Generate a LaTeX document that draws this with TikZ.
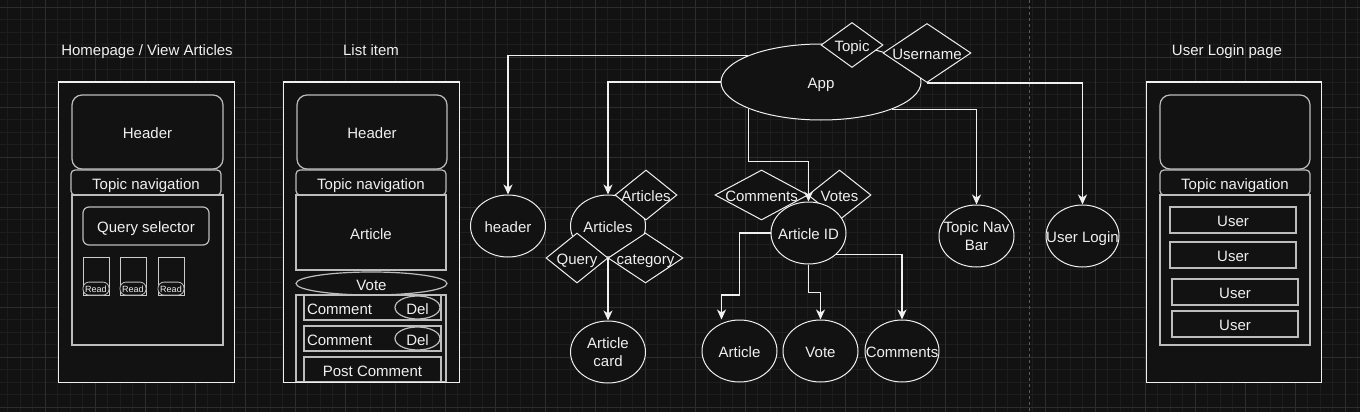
\documentclass[tikz,border=0pt]{standalone}
\usepackage{fontspec}
\setmainfont{Liberation Sans}
\usepackage{xcolor}
\usepackage{tikz}
\usetikzlibrary{shapes.geometric}
\usetikzlibrary{arrows.meta}
\definecolor{bg_col}{HTML}{121212}
\definecolor{grid_minor}{HTML}{1D1D1D}
\definecolor{grid_major}{HTML}{2D2D2D}
\definecolor{line_col}{HTML}{F0F0F0}
\definecolor{box_col}{HTML}{BDBDBD}
\definecolor{dash_col}{HTML}{5A5A5A}
\newcommand{\zw}[1]{\makebox[0pt]{#1}}
\tikzset{ page_frame/.style = {rectangle, draw=line_col, fill=bg_col, line width=1pt, inner sep=0pt} }
\tikzset{ ui_box/.style = {rectangle, draw=box_col, fill=bg_col, line width=1.2pt, inner sep=0pt} }
\tikzset{ read_tab/.style = {rectangle, rounded corners=6pt, draw=box_col, fill=bg_col, line width=0.8pt, inner sep=0pt, minimum width=26pt, minimum height=13pt, text height=8.5pt, text depth=0pt, font=\fontsize{9}{10}\selectfont} }
\tikzset{ comp/.style = {ellipse, draw=line_col, fill=bg_col, line width=1pt, inner sep=0pt, minimum width=75pt, minimum height=62pt, align=center} }
\tikzset{ prop/.style = {diamond, draw=line_col, fill=bg_col, line width=1pt, inner sep=0pt, minimum height=50pt} }
\tikzset{ link/.style = {->, draw=line_col, line width=1.3pt} }

\begin{document}
\begin{tikzpicture}[x=1pt, y=-1pt, >={Stealth[length=10pt,width=9pt,inset=3pt]},
                    every node/.style={text=line_col, font=\fontsize{15}{17.5}\selectfont, text height=13pt, text depth=0pt}]
                        \useasboundingbox (0,0) rectangle (1360,412);
                        \fill[bg_col] (0,0) rectangle (1360,412);
                        % grid
                        \foreach \gx in {7.5,20,...,1360} \draw[grid_minor, line width=0.8pt] (\gx,0) -- (\gx,412);
                        \foreach \gy in {7,19.5,...,412} \draw[grid_minor, line width=0.8pt] (0,\gy) -- (1360,\gy);
                        \foreach \gx in {45,95,...,1345} \draw[grid_major, line width=0.8pt] (\gx,0) -- (\gx,412);
                        \foreach \gy in {7,57,...,407} \draw[grid_major, line width=0.8pt] (0,\gy) -- (1360,\gy);
                        \draw[dash_col, line width=0.8pt, dash pattern=on 3pt off 3pt] (1029,0) -- (1029,412);

                        % homepage
                        \node (hp_title) at (147,49) {Homepage / View Articles};
                        \node[page_frame, minimum width=176pt, minimum height=300pt] (hp_frame) at (146,232) {};
                        \node[ui_box, rounded corners=10pt, minimum width=151pt, minimum height=74pt] (hp_header) at (147.5,132) {Header};
                        \node[ui_box, rounded corners=4pt, minimum width=150pt, minimum height=25pt] (hp_topic) at (146,182.5) {Topic navigation};
                        \node[ui_box, minimum width=151pt, minimum height=150pt] (hp_body) at (147.5,270) {};
                        \node[ui_box, rounded corners=6pt, minimum width=126pt, minimum height=38pt] (hp_query) at (146,226) {Query selector};
                        \foreach \i/\rx in {1/96,2/133,3/171} {
                                \node[ui_box, draw=line_col!85!black, line width=1pt, minimum width=26pt, minimum height=38pt] (rd\i) at (\rx,276) {};
                                \node[read_tab, anchor=south] (tab\i) at (rd\i.south) {Read};
                        }

                        % list item
                        \node (li_title) at (371,49) {List item};
                        \node[page_frame, minimum width=176pt, minimum height=300pt] (li_frame) at (371,232) {};
                        \node[ui_box, rounded corners=10pt, minimum width=150pt, minimum height=74pt] (li_header) at (372,132) {Header};
                        \node[ui_box, rounded corners=4pt, minimum width=150pt, minimum height=25pt] (li_topic) at (371,182.5) {Topic navigation};
                        \node[ui_box, minimum width=150pt, minimum height=75pt] (li_article) at (371,232.5) {Article};
                        \node[ui_box, ellipse, minimum width=151pt, minimum height=23pt] (li_vote) at (371.5,283.5) {\zw{Vote}};
                        \node[ui_box, minimum width=150pt, minimum height=87pt] (li_comments) at (371,338.5) {};
                        \node[ui_box, minimum width=137pt, minimum height=25pt, text width=131pt, inner sep=3pt, align=left] (row1) at (372.5,307.5) {Comment};
                        \node[ui_box, ellipse, minimum width=45pt, minimum height=23pt] (del1) at (417.5,307.5) {\zw{Del}};
                        \node[ui_box, minimum width=137pt, minimum height=25pt, text width=131pt, inner sep=3pt, align=left] (row2) at (372.5,338.5) {Comment};
                        \node[ui_box, ellipse, minimum width=45pt, minimum height=23pt] (del2) at (417.5,338.5) {\zw{Del}};
                        \node[ui_box, minimum width=137pt, minimum height=25pt] (post) at (372.5,369.5) {Post Comment};
                        \draw[line_col, line width=1pt] (li_frame.south west) -- (li_frame.south east);

                        % components
                        \node[comp, minimum width=200pt, minimum height=76pt] (app) at (821,82) {App};
                        \node[prop, minimum width=62pt, minimum height=45pt] (topic_d) at (852,45) {\zw{Topic}};
                        \node[prop, minimum width=88pt, minimum height=59pt] (usr_d) at (927,53) {\zw{Username}};
                        \node[comp] (hdr) at (508,226) {header};
                        \node[comp] (arts) at (608,226) {Articles};
                        \node[prop, minimum width=62pt] (arts_d) at (646,195) {\zw{Articles}};
                        \node[prop, minimum width=62pt] (query_d) at (577,258) {\zw{Query}};
                        \node[prop, minimum width=75pt] (cat_d) at (645.5,258) {\zw{category}};
                        \node[comp, text height={}, text depth={}] (card) at (608,352) {\zw{Article}\\\zw{card}};
                        \node[prop, minimum width=93pt] (cmts_d) at (761.5,195) {\zw{Comments}};
                        \node[prop, minimum width=63pt] (votes_d) at (839.5,195) {\zw{Votes}};
                        \node[comp] (artid) at (808.5,233) {\zw{Article ID}};
                        \node[comp] (art) at (739.5,351) {Article};
                        \node[comp] (vote) at (820.5,351) {Vote};
                        \node[comp, minimum width=74pt] (cmts) at (902,351) {\zw{Comments}};
                        \node[comp, text height={}, text depth={}] (tnav) at (976.5,236) {\zw{Topic Nav}\\\zw{Bar}};
                        \node[comp, minimum width=73pt] (ulog) at (1082.5,236) {\zw{User Login}};

                        \draw[link] (app.160) -| (hdr.north);
                        \draw[link] (app.west) -| (arts.north);
                        \draw[link] (app.200) -- ++(0,53) -| (artid.north);
                        \draw[link] (app.339) -| (tnav.north);
                        \draw[link] (usr_d.south) -| (ulog.north);
                        \draw[link] (arts.south) -- (card.north);
                        \draw[link] (artid.west) -| ++(-31,62) -| ([xshift=-18pt]art.north);
                        \draw[link] (artid.south) -- ++(0,28) -| (vote.north);
                        \draw[link] (artid.-38) -| (cmts.north);

                        % user login page
                        \node (ul_title) at (1227,49) {User Login page};
                        \node[page_frame, minimum width=175pt, minimum height=300pt] (ul_frame) at (1233.5,232) {};
                        \node[ui_box, rounded corners=10pt, minimum width=150pt, minimum height=74pt] (ul_header) at (1235,132) {};
                        \node[ui_box, rounded corners=4pt, minimum width=150pt, minimum height=25pt] (ul_topic) at (1235,182.5) {Topic navigation};
                        \node[ui_box, minimum width=150pt, minimum height=150pt] (ul_body) at (1235,270) {};
                        \foreach \i/\ux/\uy in {1/1233/220,2/1233/255,3/1235/292,4/1235/324}
                                \node[ui_box, minimum width=126pt, minimum height=26pt] (user\i) at (\ux,\uy) {User};
\end{tikzpicture}
\end{document}
